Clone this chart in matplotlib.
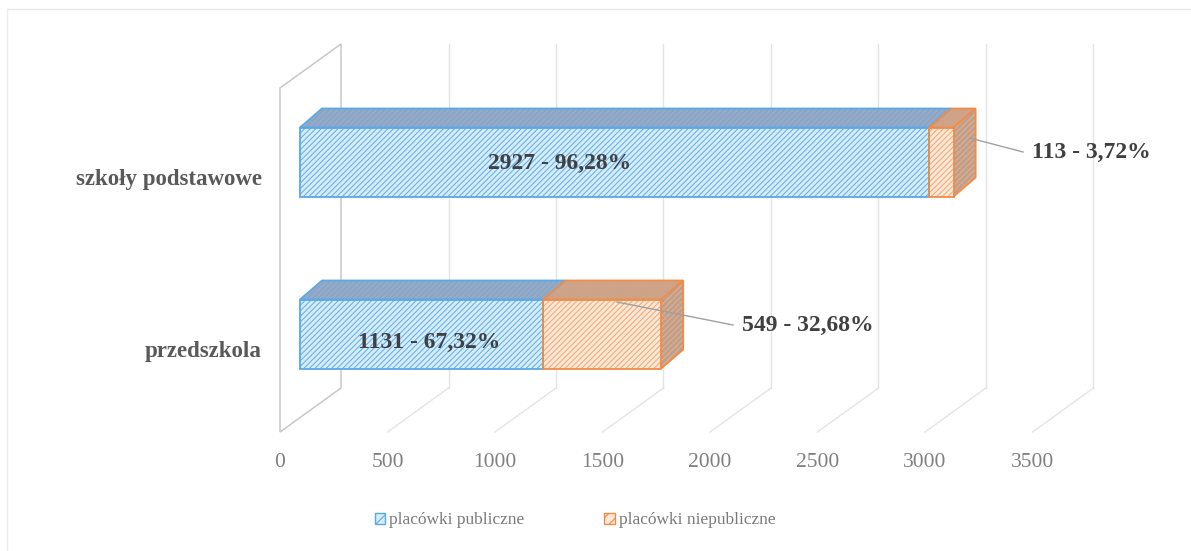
import matplotlib
matplotlib.use("Agg")
import matplotlib.pyplot as plt
import matplotlib.transforms as mtransforms
from matplotlib.patches import Polygon, Patch
from matplotlib.lines import Line2D

# ---------------- data ----------------
categories = ["przedszkola", "szkoły podstawowe"]
public = [1131, 2927]
nonpublic = [549, 113]
series_names = ["placówki publiczne", "placówki niepubliczne"]
x_ticks = [0, 500, 1000, 1500, 2000, 2500, 3000, 3500]

# ---------------- style ----------------
W, H = 1191, 551
plt.rcParams['font.family'] = ['Liberation Serif', 'DejaVu Serif']
plt.rcParams['hatch.linewidth'] = 0.8
HATCH = '//////'

BLUE = dict(front='#d6edfb', fhatch='#6ab2e8', edge='#5aa8e6',
            top='#93abc6', thatch='#86a3c6', side='#8fa8c4')
ORANGE = dict(front='#fde9d8', fhatch='#f4aa76', edge='#f08c48',
              top='#c9a58e', thatch='#d9a07e', side='#b8a194')

fig = plt.figure(figsize=(W / 100, H / 100), dpi=100)
fig.patch.set_facecolor('white')

# front plane of the 3-D plot area (pixels)
L, R, T, B = 280, 1032.5, 88, 432
ax = fig.add_axes([L / W, 1 - B / H, (R - L) / W, (B - T) / H])
ax.set_xlim(x_ticks[0], x_ticks[-1])
ax.set_ylim(-0.5, len(categories) - 0.5)
ax.patch.set_visible(False)
for s in ax.spines.values():
    s.set_visible(False)

ux = (x_ticks[-1] - x_ticks[0]) / (R - L)      # data units per pixel (x)
uy = len(categories) / (B - T)                  # data units per pixel (y)


def dxy(px, py):
    return px * ux, py * uy


Dx, Dy = dxy(61, 44)          # full depth of the 3-D box
fox, foy = dxy(20, 12)        # bar front offset
bdx, bdy = dxy(22, 19)        # bar depth
hh = 34.5 * uy                # bar half height

ylo, yhi = -0.5, len(categories) - 0.5
grid_c = '#e4e4e4'
# side wall
ax.add_patch(Polygon([(0, ylo), (0, yhi), (Dx, yhi + Dy), (Dx, ylo + Dy)],
                     closed=True, fill=False, edgecolor='#c8c8c8', lw=1.1,
                     clip_on=False, zorder=1))
for v in x_ticks[1:]:
    ax.add_line(Line2D([v + Dx, v + Dx], [ylo + Dy, yhi + Dy], color=grid_c,
                       lw=1, clip_on=False, zorder=0.5))
    ax.add_line(Line2D([v, v + Dx], [ylo, ylo + Dy], color=grid_c,
                       lw=1, clip_on=False, zorder=0.5))


def face(pts, fc, hc, ec, z, lw=1.3):
    ax.add_patch(Polygon(pts, closed=True, facecolor=fc, edgecolor=hc, lw=0,
                         hatch=HATCH, zorder=z, clip_on=False))
    ax.add_patch(Polygon(pts, closed=True, fill=False, edgecolor=ec, lw=lw,
                         zorder=z + 0.1, clip_on=False, joinstyle='miter'))


for i, cat in enumerate(categories):
    segs = [(0, public[i], BLUE), (public[i], public[i] + nonpublic[i], ORANGE)]
    yc = i + foy
    y0, y1 = yc - hh, yc + hh
    for k, (a, b, col) in enumerate(segs):
        x0, x1 = fox + a, fox + b
        face([(x0, y1), (x1, y1), (x1 + bdx, y1 + bdy), (x0 + bdx, y1 + bdy)],
             col['top'], col['thatch'], col['edge'], 3)
        face([(x0, y0), (x1, y0), (x1, y1), (x0, y1)],
             col['front'], col['fhatch'], col['edge'], 4)
        if k == len(segs) - 1:
            face([(x1, y0), (x1 + bdx, y0 + bdy), (x1 + bdx, y1 + bdy), (x1, y1)],
                 col['side'], col['fhatch'], col['edge'], 3.5)


def lab(v, tot):
    return f"{v} - {100 * v / tot:.2f}%".replace('.', ',')


tot = [p + n for p, n in zip(public, nonpublic)]
lbl_kw = dict(fontsize=17, fontweight='bold', color='#404040', zorder=10)
# inside labels (public)
in_pos = [(693, 0.023), (1302, 1.064)]
for i in range(len(categories)):
    ax.text(in_pos[i][0], in_pos[i][1], lab(public[i], tot[i]),
            ha='center', va='center', **lbl_kw)
# outside labels (non-public) with leader lines
leader = [((1567, 0.256), (2107, 0.122)), ((3209, 1.209), (3456, 1.128))]
for i in range(len(categories)):
    (ax_, ay_), (bx_, by_) = leader[i]
    ax.add_line(Line2D([ax_, bx_], [ay_, by_], color='#a0a0a0', lw=1,
                       clip_on=False, zorder=9))
    ax.text(bx_ + 40, by_, lab(nonpublic[i], tot[i]), ha='left', va='center',
            **lbl_kw)

# axes ticks
ax.set_xticks(x_ticks, labels=[str(t) for t in x_ticks])
ax.tick_params(axis='x', length=0, pad=15, labelsize=15.5, labelcolor='#808080')
ax.set_yticks(range(len(categories)), labels=categories)
ax.tick_params(axis='y', length=0, pad=13, labelsize=16.5, labelcolor='#595959')
shift = mtransforms.ScaledTranslation(0, -3 / 100, fig.dpi_scale_trans)
for t in ax.get_yticklabels():
    t.set_fontweight('bold')
    t.set_transform(t.get_transform() + shift)

# legend
handles = [Patch(facecolor=BLUE['front'], edgecolor=BLUE['edge'], hatch='///'),
           Patch(facecolor=ORANGE['front'], edgecolor=ORANGE['edge'], hatch='///')]
fig.legend(handles, series_names, loc='center', bbox_to_anchor=(0.483, 0.056),
           ncol=2, frameon=False, fontsize=12.5, handlelength=0.6,
           handleheight=0.6, handletextpad=0.25, columnspacing=4.6,
           labelcolor='#7a7a7a')

# faint chart border
fig.add_artist(Line2D([7 / W, 1], [1 - 9 / H, 1 - 9 / H], transform=fig.transFigure,
                      color='#e6e6e6', lw=1))
fig.add_artist(Line2D([7 / W, 7 / W], [0, 1 - 9 / H], transform=fig.transFigure,
                      color='#ececec', lw=1))

fig.savefig('out.png', dpi=100)
